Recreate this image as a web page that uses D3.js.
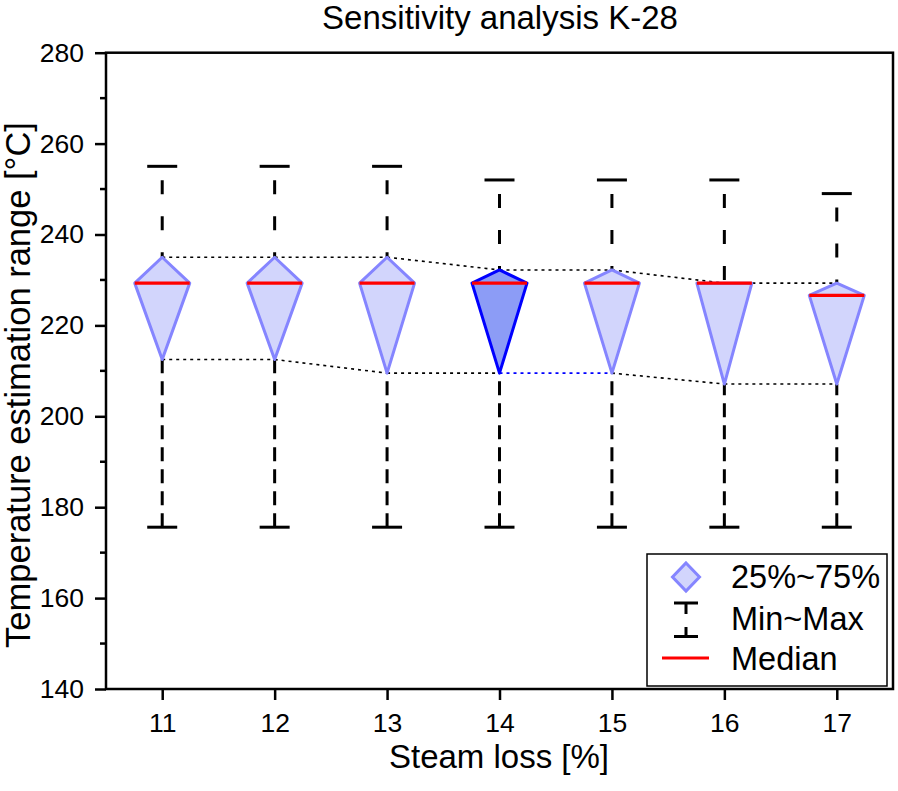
<!DOCTYPE html>
<html><head><meta charset="utf-8">
<script src="https://cdn.jsdelivr.net/npm/d3@7"></script>
<style>body{margin:0;background:#fff}svg{display:block}text{font-family:"Liberation Sans",Arial,sans-serif}</style>
</head><body>
<script>
const categories = [11, 12, 13, 14, 15, 16, 17];
const maxV   = [255, 255, 255, 252, 252, 252, 249];
const q3V    = [235, 235, 235, 232.2, 232.2, 229.3, 229.3];
const medV   = [229.3, 229.3, 229.3, 229.3, 229.3, 229.3, 226.6];
const q1V    = [212.5, 212.5, 209.5, 209.5, 209.5, 207.1, 207.1];
const minV   = [175.6, 175.6, 175.6, 175.6, 175.6, 175.6, 175.6];
const yTicks = [140, 160, 180, 200, 220, 240, 260, 280];
const legendLabels = ["25%~75%", "Min~Max", "Median"];
const highlight = 14;

const W = 898, H = 791;
const L = 106, R = 893, T = 52.7, B = 689;
const svg = d3.select("body").append("svg").attr("width", W).attr("height", H);
const x = d3.scaleLinear().domain([10.5, 17.5]).range([L, R]);
const y = d3.scaleLinear().domain([140, 280]).range([B, T]);

const data = categories.map((c, i) => ({c, max: maxV[i], q3: q3V[i], med: medV[i], q1: q1V[i], min: minV[i]}));
const hw = 27.5, capW = 15;

// connecting dotted lines
for (let i = 0; i < data.length - 1; i++) {
  const a = data[i], b = data[i + 1];
  svg.append("line").attr("x1", x(a.c)).attr("x2", x(b.c)).attr("y1", y(a.q3)).attr("y2", y(b.q3))
    .attr("stroke", "#000").attr("stroke-width", 1.6).attr("stroke-dasharray", "3,4");
  svg.append("line").attr("x1", x(a.c)).attr("x2", x(b.c)).attr("y1", y(a.q1)).attr("y2", y(b.q1))
    .attr("stroke", a.c === highlight ? "#0000ff" : "#000").attr("stroke-width", 1.6).attr("stroke-dasharray", "3,4");
}

// whiskers
const g = svg.append("g");
data.forEach(d => {
  const cx = x(d.c);
  g.append("line").attr("x1", cx).attr("x2", cx).attr("y1", y(d.max)).attr("y2", y(d.q3))
    .attr("stroke", "#000").attr("stroke-width", 3).attr("stroke-dasharray", "0,14,14,8");
  g.append("line").attr("x1", cx).attr("x2", cx).attr("y1", y(d.min)).attr("y2", y(d.q1))
    .attr("stroke", "#000").attr("stroke-width", 3).attr("stroke-dasharray", "0,0,14,8");
  [d.max, d.min].forEach(v => g.append("line").attr("x1", cx - capW).attr("x2", cx + capW)
    .attr("y1", y(v)).attr("y2", y(v)).attr("stroke", "#000").attr("stroke-width", 3));
});

// diamonds
data.forEach(d => {
  const cx = x(d.c), hl = d.c === highlight;
  const pts = [[cx, y(d.q3)], [cx + hw, y(d.med)], [cx, y(d.q1)], [cx - hw, y(d.med)]];
  svg.append("polygon").attr("points", pts.map(p => p.join(",")).join(" "))
    .attr("fill", hl ? "#8c9cf6" : "#d2d5fc").attr("stroke", hl ? "#0000ff" : "#8585ff")
    .attr("stroke-width", 3).attr("stroke-linejoin", "round");
  svg.append("line").attr("x1", cx - hw).attr("x2", cx + hw).attr("y1", y(d.med)).attr("y2", y(d.med))
    .attr("stroke", "#ff0000").attr("stroke-width", 3.2);
});

// frame
svg.append("rect").attr("x", L).attr("y", T).attr("width", R - L).attr("height", B - T)
  .attr("fill", "none").attr("stroke", "#000").attr("stroke-width", 2.5);

// y axis
const yAxis = d3.axisLeft(y).tickValues(yTicks).tickSize(11).tickPadding(11).tickFormat(d3.format("d"));
const ya = svg.append("g").attr("transform", `translate(${L},0)`).call(yAxis);
ya.select(".domain").remove();
ya.selectAll(".tick line").attr("stroke-width", 2.5);
ya.selectAll(".tick text").attr("font-size", 26.5).attr("font-family", '"Liberation Sans",Arial,sans-serif').attr("fill", "#000");
const minor = d3.range(150, 280, 20);
svg.append("g").selectAll("line").data(minor).join("line")
  .attr("x1", L - 6).attr("x2", L).attr("y1", d => y(d)).attr("y2", d => y(d))
  .attr("stroke", "#000").attr("stroke-width", 2.5);

// x axis
const xAxis = d3.axisBottom(x).tickValues(categories).tickSize(11).tickPadding(13).tickFormat(d3.format("d"));
const xa = svg.append("g").attr("transform", `translate(0,${B})`).call(xAxis);
xa.select(".domain").remove();
xa.selectAll(".tick line").attr("stroke-width", 2.5);
xa.selectAll(".tick text").attr("font-size", 26.5).attr("font-family", '"Liberation Sans",Arial,sans-serif').attr("fill", "#000");

// titles
svg.append("text").attr("x", 500).attr("y", 29).attr("text-anchor", "middle").attr("font-size", 33).text("Sensitivity analysis K-28");
svg.append("text").attr("x", 499).attr("y", 768).attr("text-anchor", "middle").attr("font-size", 33).text("Steam loss [%]");
svg.append("text").attr("transform", `translate(30,385) rotate(-90)`).attr("text-anchor", "middle").attr("font-size", 34.5)
  .text("Temperature estimation range [°C]");

// legend
const lg = svg.append("g");
lg.append("rect").attr("x", 647).attr("y", 554).attr("width", 240).attr("height", 132)
  .attr("fill", "#fff").attr("stroke", "#000").attr("stroke-width", 1.5);
const lx = 686;
lg.append("polygon").attr("points", `${lx},${563} ${lx + 13.5},${577} ${lx},${591} ${lx - 13.5},${577}`)
  .attr("fill", "#d2d5fc").attr("stroke", "#8585ff").attr("stroke-width", 3);
lg.append("line").attr("x1", lx - 12).attr("x2", lx + 12).attr("y1", 603).attr("y2", 603).attr("stroke", "#000").attr("stroke-width", 3);
lg.append("line").attr("x1", lx).attr("x2", lx).attr("y1", 603).attr("y2", 614).attr("stroke", "#000").attr("stroke-width", 3);
lg.append("line").attr("x1", lx - 12).attr("x2", lx + 12).attr("y1", 636.5).attr("y2", 636.5).attr("stroke", "#000").attr("stroke-width", 3);
lg.append("line").attr("x1", lx).attr("x2", lx).attr("y1", 627).attr("y2", 636.5).attr("stroke", "#000").attr("stroke-width", 3);
lg.append("line").attr("x1", 662).attr("x2", 709).attr("y1", 658).attr("y2", 658).attr("stroke", "#ff0000").attr("stroke-width", 3);
[588, 630, 670].forEach((by, i) => lg.append("text").attr("x", 731).attr("y", by).attr("font-size", 32.5).text(legendLabels[i]));
</script>
</body></html>
